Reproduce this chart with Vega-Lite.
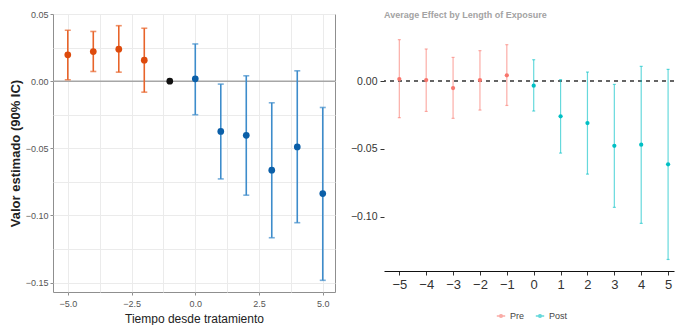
{
  "$schema": "https://vega.github.io/schema/vega-lite/v6.json",
  "background": "white",
  "padding": {"left": 8, "top": 9, "right": 0, "bottom": 0},
  "spacing": 13,
  "config": {
    "font": "Liberation Sans, sans-serif",
    "view": {"stroke": null}
  },
  "resolve": {"scale": {"color": "independent"}, "legend": {"color": "independent"}},
  "datasets": {
    "estudio": [
      {"t": -5, "est": 0.0196, "lo": 0.001, "hi": 0.0379, "grupo": "Pre"},
      {"t": -4, "est": 0.022, "lo": 0.0072, "hi": 0.037, "grupo": "Pre"},
      {"t": -3, "est": 0.0238, "lo": 0.0067, "hi": 0.0413, "grupo": "Pre"},
      {"t": -2, "est": 0.0156, "lo": -0.0082, "hi": 0.0394, "grupo": "Pre"},
      {"t": -1, "est": 0.0, "lo": null, "hi": null, "grupo": "Ref"},
      {"t": 0, "est": 0.0017, "lo": -0.025, "hi": 0.0277, "grupo": "Post"},
      {"t": 1, "est": -0.0374, "lo": -0.0728, "hi": -0.0022, "grupo": "Post"},
      {"t": 2, "est": -0.0403, "lo": -0.0849, "hi": 0.004, "grupo": "Post"},
      {"t": 3, "est": -0.0663, "lo": -0.1166, "hi": -0.0161, "grupo": "Post"},
      {"t": 4, "est": -0.049, "lo": -0.1054, "hi": 0.0077, "grupo": "Post"},
      {"t": 5, "est": -0.0837, "lo": -0.1483, "hi": -0.0196, "grupo": "Post"}
    ],
    "dinamico": [
      {"e": -5, "att": 0.0015, "lo": -0.027, "hi": 0.0305, "periodo": "Pre"},
      {"e": -4, "att": 0.0007, "lo": -0.0224, "hi": 0.0236, "periodo": "Pre"},
      {"e": -3, "att": -0.0052, "lo": -0.0275, "hi": 0.0174, "periodo": "Pre"},
      {"e": -2, "att": 0.0007, "lo": -0.0214, "hi": 0.0224, "periodo": "Pre"},
      {"e": -1, "att": 0.0042, "lo": -0.018, "hi": 0.0268, "periodo": "Pre"},
      {"e": 0, "att": -0.0034, "lo": -0.0221, "hi": 0.0157, "periodo": "Post"},
      {"e": 1, "att": -0.026, "lo": -0.0531, "hi": 0.001, "periodo": "Post"},
      {"e": 2, "att": -0.031, "lo": -0.0686, "hi": 0.0066, "periodo": "Post"},
      {"e": 3, "att": -0.0477, "lo": -0.0931, "hi": -0.0025, "periodo": "Post"},
      {"e": 4, "att": -0.0469, "lo": -0.1049, "hi": 0.0108, "periodo": "Post"},
      {"e": 5, "att": -0.0614, "lo": -0.1315, "hi": 0.0086, "periodo": "Post"}
    ]
  },
  "hconcat": [
    {
      "width": 282,
      "height": 278,
      "view": {"stroke": "#8f8f8f", "strokeWidth": 1},
      "data": {"name": "estudio"},
      "encoding": {
        "x": {
          "field": "t", "type": "quantitative",
          "scale": {"domain": [-5.58, 5.48], "nice": false, "zero": false},
          "axis": {
            "values": [-5, -3.75, -2.5, -1.25, 0, 1.25, 2.5, 3.75, 5],
            "labelExpr": "datum.value % 2.5 === 0 ? format(datum.value, '.1f') : ''",
            "title": "Tiempo desde tratamiento",
            "titleFontSize": 12, "titleFontWeight": "normal", "titleColor": "#222",
            "titlePadding": 5,
            "labelFontSize": 9, "labelColor": "#555", "labelPadding": 4,
            "domain": false,
            "tickColor": {"condition": {"test": "datum.value % 2.5 === 0", "value": "#8f8f8f"}, "value": "transparent"},
            "tickSize": 3,
            "grid": true, "gridColor": "#ebebeb", "gridWidth": 1
          }
        },
        "y": {
          "type": "quantitative",
          "scale": {"domain": [-0.157, 0.05], "nice": false, "zero": false},
          "axis": {
            "values": [-0.15, -0.125, -0.1, -0.075, -0.05, -0.025, 0, 0.025, 0.05],
            "labelExpr": "abs(datum.value * 20 - round(datum.value * 20)) < 0.001 ? format(datum.value, '.2f') : ''",
            "title": "Valor estimado (90% IC)",
            "titleFontSize": 13, "titleFontWeight": "bold", "titleColor": "#222",
            "titlePadding": 3,
            "labelFontSize": 9, "labelColor": "#555", "labelPadding": 2,
            "domain": false,
            "tickColor": {"condition": {"test": "abs(datum.value * 20 - round(datum.value * 20)) < 0.001", "value": "#8f8f8f"}, "value": "transparent"},
            "tickSize": 3,
            "grid": true, "gridColor": "#ebebeb", "gridWidth": 1
          }
        }
      },
      "layer": [
        {
          "data": {"values": [{}]},
          "mark": {"type": "rule", "color": "#a6a6a6", "strokeWidth": 1.5},
          "encoding": {"y": {"datum": 0}, "x": null}
        },
        {
          "transform": [{"filter": "datum.lo != null"}],
          "mark": {"type": "rule", "strokeWidth": 1.6},
          "encoding": {
            "y": {"field": "lo"},
            "y2": {"field": "hi"},
            "stroke": {"field": "grupo", "type": "nominal", "scale": {"domain": ["Pre", "Ref", "Post"], "range": ["#e8642a", "#333333", "#3d8ccb"]}, "legend": null}
          }
        },
        {
          "transform": [{"filter": "datum.lo != null"}],
          "mark": {"type": "tick", "orient": "horizontal", "size": 6, "thickness": 1.6},
          "encoding": {
            "y": {"field": "lo"},
            "color": {"field": "grupo", "type": "nominal", "scale": {"domain": ["Pre", "Ref", "Post"], "range": ["#e8642a", "#333333", "#3d8ccb"]}, "legend": null}
          }
        },
        {
          "transform": [{"filter": "datum.hi != null"}],
          "mark": {"type": "tick", "orient": "horizontal", "size": 6, "thickness": 1.6},
          "encoding": {
            "y": {"field": "hi"},
            "color": {"field": "grupo", "type": "nominal", "scale": {"domain": ["Pre", "Ref", "Post"], "range": ["#e8642a", "#333333", "#3d8ccb"]}, "legend": null}
          }
        },
        {
          "data": {"values": [{}]},
          "mark": {"type": "rule", "color": "#ff4560", "strokeWidth": 1.5, "strokeDash": [5, 4]},
          "encoding": {"x": {"datum": 0}, "y": null}
        },
        {
          "mark": {"type": "point", "filled": true, "opacity": 1, "size": 45},
          "encoding": {
            "y": {"field": "est"},
            "fill": {"field": "grupo", "type": "nominal", "scale": {"domain": ["Pre", "Ref", "Post"], "range": ["#dd4a0c", "#111111", "#0b5fa8"]}, "legend": null}
          }
        }
      ],
      "resolve": {"scale": {"color": "independent", "stroke": "independent", "fill": "independent"}}
    },
    {
      "width": 290,
      "height": 257,
      "title": {
        "text": "Average Effect by Length of Exposure",
        "anchor": "start", "frame": "group",
        "fontSize": 9, "fontWeight": "bold", "color": "#a3a3a3",
        "baseline": "bottom",
        "offset": -15
      },
      "data": {"name": "dinamico"},
      "encoding": {
        "x": {
          "field": "e", "type": "quantitative",
          "scale": {"domain": [-5.57, 5.22], "nice": false, "zero": false},
          "axis": {
            "values": [-5, -4, -3, -2, -1, 0, 1, 2, 3, 4, 5],
            "format": "d", "title": null,
            "labelFontSize": 13, "labelColor": "#333", "labelPadding": 3,
            "domainColor": "#111", "domainWidth": 1.2,
            "tickColor": "#333", "tickSize": 4,
            "grid": false
          }
        },
        "y": {
          "type": "quantitative",
          "scale": {"domain": [-0.14, 0.0494], "nice": false, "zero": false},
          "axis": {
            "values": [-0.1, -0.05, 0],
            "format": ".2f", "title": null,
            "labelFontSize": 10.5, "labelColor": "#333", "labelPadding": 3,
            "domain": false,
            "tickColor": "#333", "tickSize": 4,
            "grid": false
          }
        },
        "color": {
          "field": "periodo", "type": "nominal",
          "scale": {"domain": ["Pre", "Post"], "range": ["#F8766D", "#00BFC4"]},
          "legend": {
            "orient": "none", "legendX": 112, "legendY": 297,
            "direction": "horizontal", "title": null,
            "symbolType": "M -1 0 L 1 0 M 0.35 0 A 0.35 0.35 0 1 1 -0.35 0 A 0.35 0.35 0 1 1 0.35 0",
            "symbolSize": 70, "symbolStrokeWidth": 1.3,
            "labelFontSize": 9, "labelColor": "#444",
            "columnPadding": 8
          }
        }
      },
      "layer": [
        {
          "data": {"values": [{}]},
          "mark": {"type": "rule", "color": "#111", "strokeWidth": 1.2},
          "encoding": {"x": {"datum": -5.57}, "y": {"datum": -0.14}, "y2": {"datum": 0.0383}, "color": null}
        },
        {
          "data": {"values": [{}]},
          "mark": {"type": "rule", "color": "#333", "strokeWidth": 1.5, "strokeDash": [4, 4]},
          "encoding": {"y": {"datum": 0}, "x": null, "color": null}
        },
        {
          "mark": {"type": "rule", "strokeWidth": 1.2, "opacity": 0.6},
          "encoding": {"y": {"field": "lo"}, "y2": {"field": "hi"}}
        },
        {
          "mark": {"type": "tick", "orient": "horizontal", "size": 3, "thickness": 1.2, "opacity": 0.6},
          "encoding": {"y": {"field": "lo"}}
        },
        {
          "mark": {"type": "tick", "orient": "horizontal", "size": 3, "thickness": 1.2, "opacity": 0.6},
          "encoding": {"y": {"field": "hi"}}
        },
        {
          "mark": {"type": "point", "filled": true, "opacity": 1, "size": 18},
          "encoding": {"y": {"field": "att"}}
        }
      ]
    }
  ]
}
